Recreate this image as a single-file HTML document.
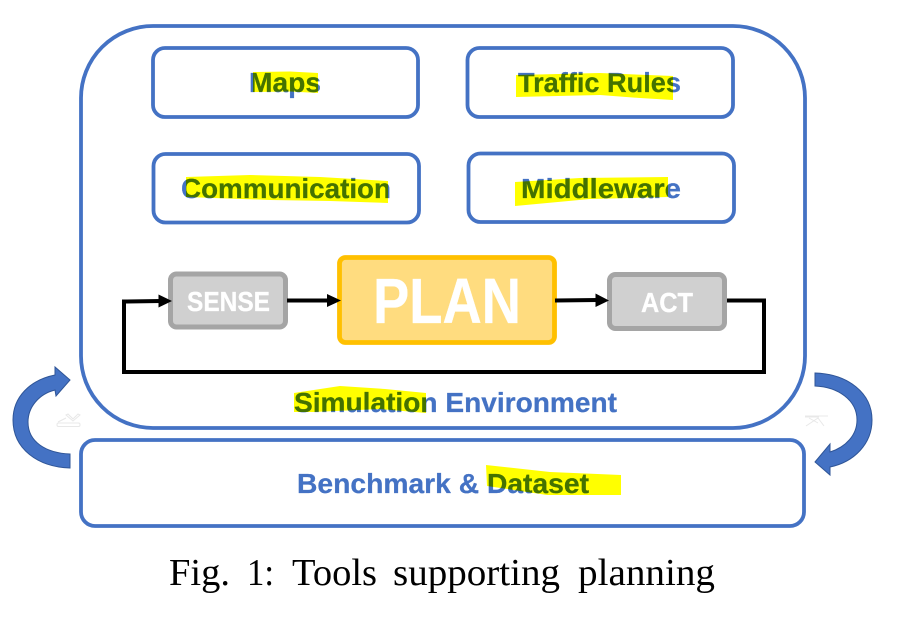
<!DOCTYPE html>
<html>
<head>
<meta charset="utf-8">
<style>
html,body{margin:0;padding:0;background:#fff;}
svg{display:block;}
.b{font-family:"Liberation Sans",sans-serif;font-weight:bold;fill:#4472C4;stroke:#4472C4;stroke-width:.25px;}
.w{font-family:"Liberation Sans",sans-serif;font-weight:bold;fill:#fff;stroke:#fff;stroke-width:.3px;}
.y{fill:#FFFF00;mix-blend-mode:multiply;}
.c{font-family:"Liberation Serif",serif;font-size:38px;fill:#000;}
</style>
</head>
<body>
<svg width="902" height="628" viewBox="0 0 902 628" xmlns="http://www.w3.org/2000/svg" style="isolation:isolate">
<rect width="902" height="628" fill="#fff"/>
<g fill="#fff" stroke="#4472C4" stroke-width="3.800">
<rect x="81" y="26" width="724" height="402" rx="72"/>
<rect x="153" y="48" width="265" height="69" rx="12"/>
<rect x="467.500" y="48" width="265.500" height="69" rx="12"/>
<rect x="153.500" y="154" width="265.500" height="68.500" rx="12"/>
<rect x="468.500" y="153.500" width="265.500" height="68.500" rx="12"/>
<rect x="81" y="440" width="723" height="86" rx="14"/>
</g>
<rect x="170.500" y="274" width="115" height="53" rx="6" fill="#D0D0D0" stroke="#A5A5A5" stroke-width="5"/>
<rect x="609.500" y="274.500" width="115" height="54" rx="6" fill="#D0D0D0" stroke="#A5A5A5" stroke-width="5"/>
<rect x="339.500" y="257.500" width="215" height="85" rx="6" fill="#FFDC7F" stroke="#FFC000" stroke-width="4.800"/>
<g fill="none" stroke="#000" stroke-width="4">
<path d="M161 301 L124 301.500 L124 372 L764 372 L764 300.500 L727 300.500"/>
<path d="M287 300.500 L329 300.500"/>
<path d="M555 300.500 L598 300"/>
</g>
<g fill="#000">
<path d="M158.500 294.500 L172 301 L158.500 307.500 Z"/>
<path d="M327 294 L341 300.500 L327 307 Z"/>
<path d="M595.500 293.500 L609 300.500 L595.500 307 Z"/>
</g>
<text class="b" x="249" y="92" font-size="28" textLength="72" lengthAdjust="spacingAndGlyphs">Maps</text>
<text class="b" x="518" y="92" font-size="28" textLength="163" lengthAdjust="spacingAndGlyphs">Traffic Rules</text>
<text class="b" x="181" y="198" font-size="28" textLength="210" lengthAdjust="spacingAndGlyphs">Communication</text>
<text class="b" x="521" y="198" font-size="28" textLength="160" lengthAdjust="spacingAndGlyphs">Middleware</text>
<text class="b" x="294" y="412" font-size="28" textLength="323" lengthAdjust="spacingAndGlyphs">Simulation Environment</text>
<text class="b" x="297" y="493" font-size="28" textLength="292" lengthAdjust="spacingAndGlyphs">Benchmark &amp; Dataset</text>
<text class="w" x="187" y="311" font-size="28" textLength="83" lengthAdjust="spacingAndGlyphs">SENSE</text>
<text class="w" x="641" y="312" font-size="28" textLength="52" lengthAdjust="spacingAndGlyphs">ACT</text>
<text class="w" x="373" y="323" font-size="64" textLength="148" lengthAdjust="spacingAndGlyphs">PLAN</text>
<path class="y" d="M253 72 L290 71.500 L318 73 L318 93 L290 91.500 L253 92 Z"/>
<path class="y" d="M516 75 L600 73 L673 76 L673 100 L640 98 L600 95 L516 97 Z"/>
<path class="y" d="M186 177 L250 175 L320 177 L388 181 L388 203 L330 201 L270 200 L186 197 Z"/>
<path class="y" d="M515 182 L580 178 L668 177 L668 197 L590 199 L515 206 Z"/>
<path class="y" d="M294 393 L340 386 L385 389 L426 393 L426 413 L380 409 L313 412 L294 412 Z"/>
<path class="y" d="M486 465 L550 472 L621 475 L621 495 L547 495 L487 486 Z"/>
<path d="M70 380 L55 367 L55 375 C30 380 13 397 13 420 C13 449 38 467 70 468 L70 454 C46 453 28 442 28 422 C28 407 39 394 55 390 L56 396 Z" fill="#4472C4" stroke="#2F5597" stroke-width="1"/>
<path d="M815 373 L815 386 C838 387 857 400 857 420 C857 435 846 447 830 452 L830 444 L815 462 L830 475 L830 467 C854 462 872 444 872 420 C872 393 848 374 815 373 Z" fill="#4472C4" stroke="#2F5597" stroke-width="1"/>
<g fill="none" stroke="#E8E8E8" stroke-width="1">
<rect x="57" y="423" width="23" height="3.500" rx="1.500"/>
<path d="M66 415 L73 421 L80 415 L78 414 L73 419 L68 414 Z M58 422 L66 418"/>
<path d="M805 416 L828 416 M805 417 L819 417 M806 426 L818 418 L824 426 M809 418 L818 423"/>
</g>
<text class="c" x="169" y="585" textLength="61" lengthAdjust="spacingAndGlyphs">Fig.</text>
<text class="c" x="247" y="585" textLength="27" lengthAdjust="spacingAndGlyphs">1:</text>
<text class="c" x="292" y="585" textLength="85" lengthAdjust="spacingAndGlyphs">Tools</text>
<text class="c" x="393" y="585" textLength="167" lengthAdjust="spacingAndGlyphs">supporting</text>
<text class="c" x="578" y="585" textLength="137" lengthAdjust="spacingAndGlyphs">planning</text>
</svg>
</body>
</html>
